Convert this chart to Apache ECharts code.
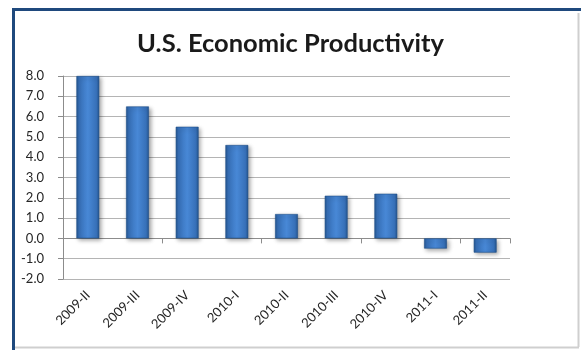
<!DOCTYPE html>
<html>
<head>
<meta charset="utf-8">
<script src="https://cdn.jsdelivr.net/npm/echarts@6/dist/echarts.min.js"></script>
<style>
  html, body { margin: 0; padding: 0; background: #ffffff; }
  #chart { width: 581px; height: 350px; }
</style>
</head>
<body>
<div id="chart"></div>
<script>
// Quarterly productivity change, percent
const quarters = ['2009-II', '2009-III', '2009-IV', '2010-I', '2010-II', '2010-III', '2010-IV', '2011-I', '2011-II'];
const productivity = [8.0, 6.5, 5.5, 4.6, 1.2, 2.1, 2.2, -0.5, -0.7];
const chartTitle = 'U.S. Economic Productivity';

const FONT = 'Lato, "Open Sans", sans-serif';

const barFill = {
  type: 'linear', x: 0, y: 0, x2: 1, y2: 0,
  colorStops: [
    { offset: 0, color: '#24558f' },
    { offset: 0.12, color: '#3770b8' },
    { offset: 0.5, color: '#4888d6' },
    { offset: 0.88, color: '#3770b8' },
    { offset: 1, color: '#24558f' }
  ]
};

const chart = echarts.init(document.getElementById('chart'), null, { renderer: 'canvas' });

chart.setOption({
  animation: false,
  backgroundColor: '#ffffff',
  title: {
    text: chartTitle,
    left: 'center',
    top: 26,
    textStyle: { fontFamily: FONT, fontSize: 25.5, fontWeight: 'bold', color: '#1a1a1a' }
  },
  graphic: [
    // panel frame: dark blue top/left edges, soft grey right/bottom edges
    { type: 'line', shape: { x1: 12, y1: 9.5, x2: 581, y2: 9.5 }, style: { stroke: '#1f497d', lineWidth: 3 }, z: 10 },
    { type: 'line', shape: { x1: 13.5, y1: 8, x2: 13.5, y2: 350 }, style: { stroke: '#1f497d', lineWidth: 3 }, z: 10 },
    { type: 'line', shape: { x1: 578.5, y1: 13, x2: 578.5, y2: 347 }, style: { stroke: '#cfcfcf', lineWidth: 2 }, z: 10 },
    { type: 'line', shape: { x1: 15, y1: 347.5, x2: 579, y2: 347.5 }, style: { stroke: '#cfcfcf', lineWidth: 2 }, z: 10 }
  ],
  grid: { left: 63, right: 71, top: 76, bottom: 71, containLabel: false },
  xAxis: [
    {
      type: 'category',
      data: quarters,
      position: 'bottom',
      axisLine: { onZero: true, lineStyle: { color: '#8c8c8c', width: 1 } },
      axisTick: { show: true, inside: false, length: 5, alignWithLabel: false, lineStyle: { color: '#8c8c8c' } },
      axisLabel: { show: false },
      splitLine: { show: false }
    },
    {
      type: 'category',
      data: quarters,
      position: 'bottom',
      axisLine: { show: false, onZero: false },
      axisTick: { show: false },
      axisLabel: {
        show: true,
        rotate: 45,
        margin: 14,
        interval: 0,
        fontFamily: FONT,
        fontSize: 13,
        color: '#262626'
      },
      splitLine: { show: false }
    }
  ],
  yAxis: {
    type: 'value',
    min: -2,
    max: 8,
    interval: 1,
    axisLine: { show: true, lineStyle: { color: '#8c8c8c', width: 1 } },
    axisTick: { show: true, inside: false, length: 5, lineStyle: { color: '#8c8c8c' } },
    axisLabel: {
      margin: 19,
      fontFamily: FONT,
      fontSize: 13,
      color: '#262626',
      formatter: v => v.toFixed(1)
    },
    splitLine: { show: true, lineStyle: { color: '#b4b4b4', width: 1 } }
  },
  series: [
    {
      type: 'bar',
      xAxisIndex: 0,
      data: productivity,
      barWidth: '46%',
      itemStyle: {
        color: barFill,
        borderColor: '#1f4f8a',
        borderWidth: 0.6,
        shadowColor: 'rgba(0,0,0,0.35)',
        shadowBlur: 4,
        shadowOffsetX: 2,
        shadowOffsetY: 2
      }
    }
  ]
});
</script>
</body>
</html>
